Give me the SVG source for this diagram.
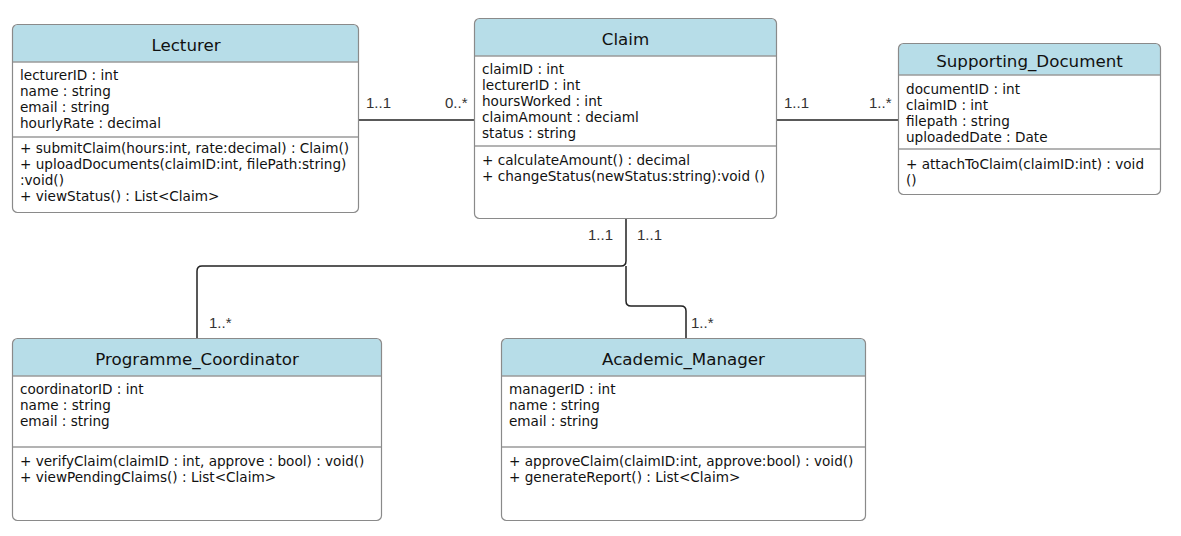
<svg xmlns="http://www.w3.org/2000/svg" width="1181" height="536" viewBox="0 0 1181 536">
<style>
.box{fill:none;stroke:#8a8a8a;stroke-width:1.2}
.hdr{fill:#b7dde8}
.div{stroke:#9a9a9a;stroke-width:1.5}
.title{font-family:"DejaVu Sans",Verdana,sans-serif;font-size:16.7px;fill:#111;text-anchor:middle}
.t{font-family:"DejaVu Sans",Verdana,sans-serif;font-size:13.6px;fill:#111}
.m{font-family:"Liberation Sans",Arial,sans-serif;font-size:15px;fill:#333}
.ln{fill:none;stroke:#222;stroke-width:1.5}
</style>
<rect width="1181" height="536" fill="#ffffff"/>
<g id="connectors">
<path class="ln" d="M359,120 H474"/>
<path class="ln" d="M777,120 H898"/>
<path class="ln" d="M626,218 V261 Q626,266 621,266 H202 Q197,266 197,271 V338"/>
<path class="ln" d="M626,266 V301 Q626,306 631,306 H681 Q686,306 686,311 V338"/>
<text class="m" x="366" y="108">1..1</text>
<text class="m" x="445" y="108">0..*</text>
<text class="m" x="784" y="108">1..1</text>
<text class="m" x="869" y="108">1..*</text>
<text class="m" x="588" y="240">1..1</text>
<text class="m" x="637" y="240">1..1</text>
<text class="m" x="209" y="328">1..*</text>
<text class="m" x="691" y="328">1..*</text>
</g>
<g id="lecturer">
<path class="hdr" d="M13,62 V30 Q13,25 18,25 H353 Q358,25 358,30 V62 Z"/>
<rect class="box" x="12.5" y="24.5" width="346" height="188" rx="5"/>
<line class="div" x1="13" y1="62" x2="358" y2="62"/>
<line class="div" x1="13" y1="137" x2="358" y2="137"/>
<text class="title" x="186" y="51">Lecturer</text>
<text class="t" x="20" y="80">lecturerID : int</text>
<text class="t" x="20" y="96">name : string</text>
<text class="t" x="20" y="112">email : string</text>
<text class="t" x="20" y="128">hourlyRate : decimal</text>
<text class="t" x="20" y="153">+ submitClaim(hours:int, rate:decimal) : Claim()</text>
<text class="t" x="20" y="169">+ uploadDocuments(claimID:int, filePath:string)</text>
<text class="t" x="20" y="185">:void()</text>
<text class="t" x="20" y="201">+ viewStatus() : List&lt;Claim&gt;</text>
</g>
<g id="claim">
<path class="hdr" d="M475,56 V24 Q475,19 480,19 H771 Q776,19 776,24 V56 Z"/>
<rect class="box" x="474.5" y="18.5" width="302" height="200" rx="5"/>
<line class="div" x1="475" y1="56" x2="776" y2="56"/>
<line class="div" x1="475" y1="146" x2="776" y2="146"/>
<text class="title" x="625.5" y="45">Claim</text>
<text class="t" x="482" y="74">claimID : int</text>
<text class="t" x="482" y="90">lecturerID : int</text>
<text class="t" x="482" y="106">hoursWorked : int</text>
<text class="t" x="482" y="122">claimAmount : deciaml</text>
<text class="t" x="482" y="138">status : string</text>
<text class="t" x="482" y="165">+ calculateAmount() : decimal</text>
<text class="t" x="482" y="181">+ changeStatus(newStatus:string):void ()</text>
</g>
<g id="supporting_document">
<path class="hdr" d="M899,75 V49 Q899,44 904,44 H1155 Q1160,44 1160,49 V75 Z"/>
<rect class="box" x="898.5" y="43.5" width="262" height="151" rx="5"/>
<line class="div" x1="899" y1="75" x2="1160" y2="75"/>
<line class="div" x1="899" y1="149" x2="1160" y2="149"/>
<text class="title" x="1029.5" y="67">Supporting_Document</text>
<text class="t" x="906" y="94">documentID : int</text>
<text class="t" x="906" y="110">claimID : int</text>
<text class="t" x="906" y="126">filepath : string</text>
<text class="t" x="906" y="142">uploadedDate : Date</text>
<text class="t" x="906" y="169">+ attachToClaim(claimID:int) : void</text>
<text class="t" x="906" y="185">()</text>
</g>
<g id="programme_coordinator">
<path class="hdr" d="M13,376 V344 Q13,339 18,339 H376 Q381,339 381,344 V376 Z"/>
<rect class="box" x="12.5" y="338.5" width="369" height="182" rx="5"/>
<line class="div" x1="13" y1="376" x2="381" y2="376"/>
<line class="div" x1="13" y1="447" x2="381" y2="447"/>
<text class="title" x="197" y="365">Programme_Coordinator</text>
<text class="t" x="20" y="394">coordinatorID : int</text>
<text class="t" x="20" y="410">name : string</text>
<text class="t" x="20" y="426">email : string</text>
<text class="t" x="20" y="466">+ verifyClaim(claimID : int, approve : bool) : void()</text>
<text class="t" x="20" y="482">+ viewPendingClaims() : List&lt;Claim&gt;</text>
</g>
<g id="academic_manager">
<path class="hdr" d="M502,376 V344 Q502,339 507,339 H860 Q865,339 865,344 V376 Z"/>
<rect class="box" x="501.5" y="338.5" width="364" height="182" rx="5"/>
<line class="div" x1="502" y1="376" x2="865" y2="376"/>
<line class="div" x1="502" y1="447" x2="865" y2="447"/>
<text class="title" x="683.5" y="365">Academic_Manager</text>
<text class="t" x="509" y="394">managerID : int</text>
<text class="t" x="509" y="410">name : string</text>
<text class="t" x="509" y="426">email : string</text>
<text class="t" x="509" y="466">+ approveClaim(claimID:int, approve:bool) : void()</text>
<text class="t" x="509" y="482">+ generateReport() : List&lt;Claim&gt;</text>
</g>
</svg>
